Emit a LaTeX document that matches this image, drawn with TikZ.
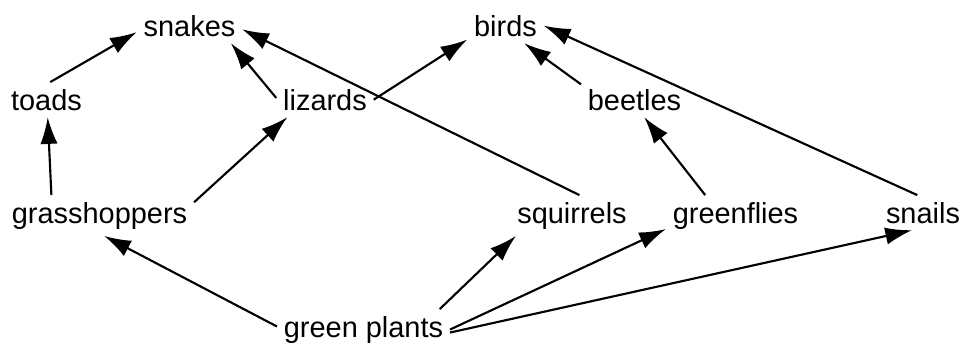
\documentclass[tikz,border=0pt]{standalone}
\usepackage{fontspec}
\setmainfont{Liberation Sans}
\usetikzlibrary{arrows.meta}
\tikzstyle{species}=[anchor=base,inner sep=5pt,font=\fontsize{21.7pt}{26pt}\selectfont]
\tikzstyle{eats}=[draw=black,line width=1.6pt,-{Latex[length=20pt,width=13pt]}]

\begin{document}
\begin{tikzpicture}[x=0.75pt,y=-0.75pt]
		\useasboundingbox (0,0) rectangle (963,343);
		\node[species] (snakes) at (189.5,36) {snakes};
		\node[species] (birds) at (505.5,36) {birds};
		\node[species] (toads) at (46.5,110) {toads};
		\node[species] (lizards) at (325,110) {lizards};
		\node[species] (beetles) at (634.5,110) {beetles};
		\node[species] (grasshoppers) at (99.5,223) {grasshoppers};
		\node[species] (squirrels) at (572,223) {squirrels};
		\node[species] (greenflies) at (735.5,223) {greenflies};
		\node[species] (snails) at (923,223) {snails};
		\node[species] (plants) at (363.5,337) {green plants};
		\draw[eats] (toads.78) -- (snakes.187);
		\draw[eats] (lizards.178) -- (snakes.337);
		\draw[eats] (squirrels.70) -- (snakes.356);
		\draw[eats] (lizards.0) -- (birds.200);
		\draw[eats] (beetles.164) -- (birds.317);
		\draw[eats] (snails.108) -- (birds.0);
		\draw[eats] (grasshoppers.157) -- (toads.274);
		\draw[eats] (grasshoppers.8) -- (lizards.205);
		\draw[eats] (greenflies.146) -- (beetles.299);
		\draw[eats] (plants.178) -- (grasshoppers.283);
		\draw[eats] (plants.15) -- (squirrels.200);
		\draw[eats] (plants.0) -- (greenflies.191);
		\draw[eats] (plants.-2) -- (snails.238);
	\end{tikzpicture}
\end{document}
